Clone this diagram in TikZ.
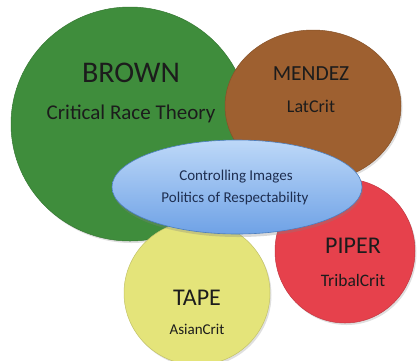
\documentclass[tikz,border=0pt]{standalone}
\usepackage{fontspec}
\setmainfont{Carlito}
\usepackage{xcolor}
\definecolor{cGreen}{HTML}{3F8D3C}
\definecolor{cBrown}{HTML}{9E6030}
\definecolor{cRed}{HTML}{E6414C}
\definecolor{cYellow}{HTML}{E4E47A}
\definecolor{cBlueTop}{HTML}{BDD8F8}
\definecolor{cBlueBot}{HTML}{6FA2E6}
\definecolor{cBlueEdge}{HTML}{4C7FC0}
\definecolor{cText}{HTML}{1C1C1C}
\definecolor{cNavy}{HTML}{1E2E50}
\usepackage{tikz}
\usetikzlibrary{shapes.geometric, shadows}

\begin{document}
\begin{tikzpicture}[x=1pt, y=-1pt,
    blob/.style={ellipse, draw=#1!85!black, fill=#1, line width=0.5pt,
                 inner sep=0pt,
                 drop shadow={opacity=0.25, shadow xshift=1.5pt, shadow yshift=-2pt}},
    big/.style={text=cText, font=\fontsize{#1}{#1}\selectfont},
    small/.style={text=cText, font=\fontsize{#1}{#1}\selectfont},
    core/.style={text=cNavy, font=\fontsize{15}{16}\selectfont}
]
\useasboundingbox (0,0) rectangle (418,360);

% circles
\node[blob=cGreen, minimum width=238pt, minimum height=234pt] (brown) at (130,124) {};
\node[blob=cBrown, minimum width=176pt, minimum height=152pt] (mendez) at (313,106) {};
\node[blob=cRed, minimum width=140pt, minimum height=144pt] (piper) at (345,251) {};
\node[blob=cYellow, minimum width=146pt, minimum height=144pt] (tape) at (197,293) {};
\node[ellipse, draw=cBlueEdge, line width=0.6pt, top color=cBlueTop,
      bottom color=cBlueBot, minimum width=250pt, minimum height=94pt,
      drop shadow={opacity=0.3, shadow xshift=1pt, shadow yshift=-3pt}]
      (core) at (237,187) {};

% labels
\node[big=30] (brownname) at (131,73) {BROWN};
\node[small=21] (browntheory) at (131,114) {Critical Race Theory};
\node[big=21.5] (mendezname) at (311,74) {MENDEZ};
\node[small=18] (mendeztheory) at (311,106) {LatCrit};
\node[core] (coreone) at (236,177) {Controlling Images};
\node[core] (coretwo) at (235,198) {Politics of Respectability};
\node[big=24] (pipername) at (353,246) {PIPER};
\node[small=17.5] (pipertheory) at (353,280) {TribalCrit};
\node[big=24] (tapename) at (197,298) {TAPE};
\node[small=15] (tapetheory) at (197,329) {AsianCrit};
\end{tikzpicture}
\end{document}
